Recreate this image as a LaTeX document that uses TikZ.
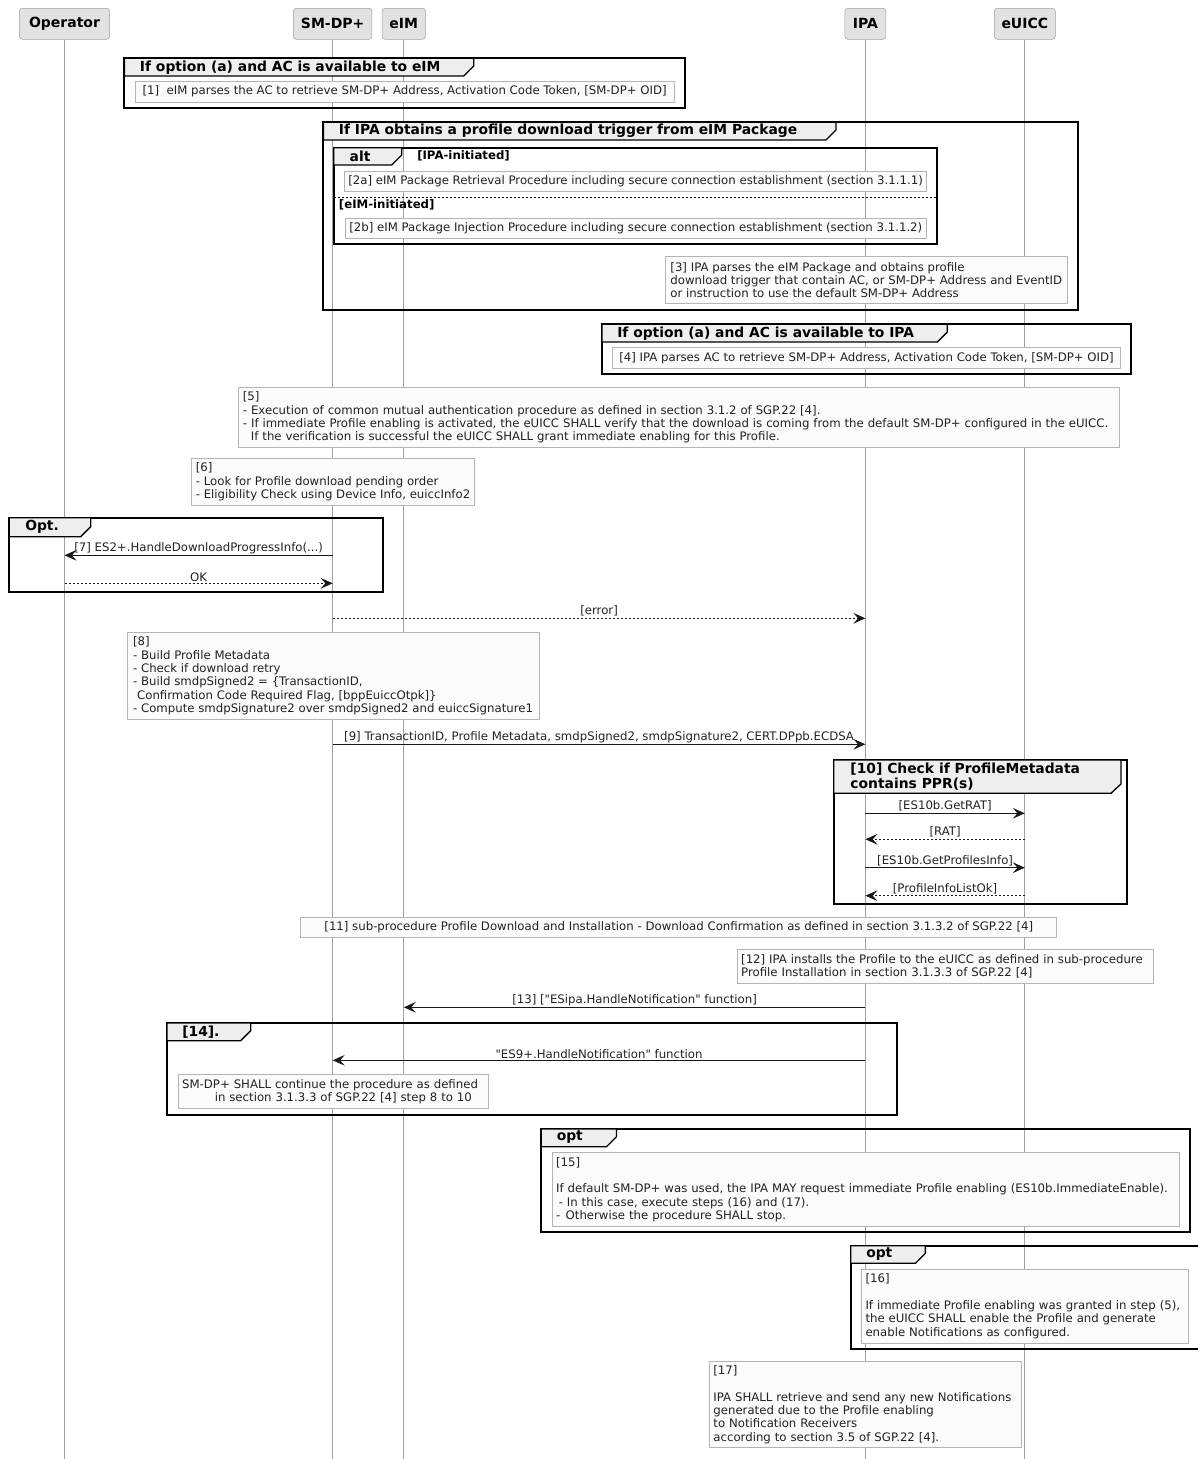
\documentclass[tikz,border=0pt]{standalone}
\usepackage{fontspec}
\setmainfont{DejaVu Sans}
\newfontfamily\umlfont{DejaVu Sans}
\usetikzlibrary{arrows.meta}
\definecolor{partfill}{HTML}{E2E2E2}
\definecolor{partline}{HTML}{A0A0A0}
\definecolor{lifegray}{HTML}{A0A0A0}
\definecolor{notefill}{HTML}{FBFBFB}
\definecolor{noteline}{HTML}{B4B4B4}
\definecolor{tabfill}{HTML}{EEEEEE}
\definecolor{msgline}{HTML}{181818}
\definecolor{textdark}{HTML}{222222}
\tikzset{
  part/.style={rectangle, rounded corners=2.25pt, draw=partline, fill=partfill, minimum height=23.25pt, inner sep=0pt, font=\umlfont\bfseries\fontsize{10.5}{12}\selectfont},
  life/.style={draw=lifegray, line width=0.75pt},
  grp/.style={draw=black, line width=1.5pt},
  tab/.style={draw=black, line width=1pt, fill=tabfill},
  grptitle/.style={anchor=west, inner sep=0pt, align=left, font=\umlfont\bfseries\fontsize{10.4}{11.25}\selectfont},
  guard/.style={anchor=west, inner sep=0pt, font=\umlfont\bfseries\fontsize{8.8}{10}\selectfont},
  altsep/.style={draw=black, line width=0.75pt, dash pattern=on 1.5pt off 1.5pt},
  note/.style={rectangle, anchor=north west, draw=noteline, fill=notefill, line width=0.75pt, inner xsep=3pt, inner ysep=0pt, align=left, text=textdark, font=\umlfont\fontsize{8.8}{10}\selectfont},
  msg/.style={draw=msgline, line width=0.75pt, -{Stealth[length=9pt, width=8pt, inset=3.5pt]}},
  reply/.style={msg, dash pattern=on 1.5pt off 1.5pt},
  lbl/.style={midway, above, inner sep=1pt, text=textdark, font=\umlfont\fontsize{8.8}{10}\selectfont}
}
\begin{document}
\begin{tikzpicture}[x=0.75pt, y=-0.75pt]
  \useasboundingbox (0,0) rectangle (1197,1459);
  \coordinate (bottom) at (0,1459);

  % participants and lifelines
  \node[part, minimum width=67.7pt] (op) at (64.5,23.8) {Operator};
  \node[part, minimum width=58.9pt] (smdp) at (332.7,23.8) {SM-DP+};
  \node[part, minimum width=32.5pt] (eim) at (403.8,23.8) {eIM};
  \node[part, minimum width=30.8pt] (ipa) at (865.4,23.8) {IPA};
  \node[part, minimum width=45.7pt] (euicc) at (1024.8,23.8) {eUICC};
  \foreach \p in {op, smdp, eim, ipa, euicc}
    \draw[life] (\p.south) -- (\p |- bottom);

  % [1]
  \draw[grp] (124.4,58.3) rectangle (684.5,108.3);
  \draw[tab] (124.4,58.3) -- (473.8,58.3) -- (473.8,66) -- (463.8,76) -- (124.4,76) -- cycle;
  \node[grptitle] (g1) at (139.7,67.2) {If option (a) and AC is available to eIM};
  \node[note, minimum width=404.1pt, minimum height=15.75pt] (n1) at (134.7,80.7) {[1]\ \ eIM parses the AC to retrieve SM-DP+ Address, Activation Code Token, [SM-DP+ OID]};

  % [2] - [3]
  \draw[grp] (323.4,122.3) rectangle (1077.5,310);
  \draw[tab] (323.4,122.3) -- (836,122.3) -- (836,130) -- (826,140) -- (323.4,140) -- cycle;
  \node[grptitle] (g2) at (338.7,131.2) {If IPA obtains a profile download trigger from eIM Package};
  \draw[grp] (333.7,147.7) rectangle (936.6,244);
  \draw[tab] (333.7,147.7) -- (401.8,147.7) -- (401.8,155) -- (391.8,165) -- (333.7,165) -- cycle;
  \node[grptitle] (galt) at (349.4,156.3) {alt};
  \node[guard] (galt1) at (417,156) {[IPA-initiated]};
  \node[note, minimum width=437pt, minimum height=15pt] (n2a) at (343.7,170.7) {[2a] eIM Package Retrieval Procedure including secure connection establishment (section 3.1.1.1)};
  \draw[altsep] (333.7,197.7) -- (936.6,197.7);
  \node[guard] (galt2) at (338.7,205) {[eIM-initiated]};
  \node[note, minimum width=434.7pt, minimum height=15.45pt] (n2b) at (344.8,217.7) {[2b] eIM Package Injection Procedure including secure connection establishment (section 3.1.1.2)};
  \node[note, minimum width=301.65pt, minimum height=35.5pt] (n3) at (664.7,256) {[3] IPA parses the eIM Package and obtains profile\\download trigger that contain AC, or SM-DP+ Address and EventID\\or instruction to use the default SM-DP+ Address};

  % [4]
  \draw[grp] (601.9,324.3) rectangle (1130.5,374.3);
  \draw[tab] (601.9,324.3) -- (947.3,324.3) -- (947.3,332) -- (937.3,342) -- (601.9,342) -- cycle;
  \node[grptitle] (g3) at (617,333.2) {If option (a) and AC is available to IPA};
  \node[note, minimum width=380.7pt, minimum height=15.3pt] (n4) at (612.2,347.3) {[4] IPA parses AC to retrieve SM-DP+ Address, Activation Code Token, [SM-DP+ OID]};

  % [5] - [6]
  \node[note, text width=654.2pt, minimum height=45.5pt] (n5) at (238.4,386.7) {[5]\\- Execution of common mutual authentication procedure as defined in section 3.1.2 of SGP.22 [4].\\- If immediate Profile enabling is activated, the eUICC SHALL verify that the download is coming from the default SM-DP+ configured in the eUICC.\\\hspace*{6pt}If the verification is successful the eUICC SHALL grant immediate enabling for this Profile.};
  \node[note, minimum width=212.9pt, minimum height=35.7pt] (n6) at (190.6,457.7) {[6]\\- Look for Profile download pending order\\- Eligibility Check using Device Info, euiccInfo2};

  % [7]
  \draw[grp] (9.2,517.7) rectangle (382.7,592);
  \draw[tab] (9.2,517.7) -- (90.7,517.7) -- (90.7,526.7) -- (80.7,536.7) -- (9.2,536.7) -- cycle;
  \node[grptitle] (gopt) at (25,527.2) {Opt.};
  \draw[msg] (smdp |- 0,555.3) -- node[lbl] {[7] ES2+.HandleDownloadProgressInfo(...)} (op |- 0,555.3);
  \draw[reply] (op |- 0,583.3) -- node[lbl] {OK} (smdp |- 0,583.3);
  \draw[reply] (smdp |- 0,618.3) -- node[lbl] {[error]} (ipa |- 0,618.3);

  % [8] - [9]
  \node[note, minimum width=308.85pt, minimum height=65.25pt] (n8) at (126.7,632) {[8]\\- Build Profile Metadata\\- Check if download retry\\- Build smdpSigned2 = \{TransactionID,\\\hspace*{3pt}Confirmation Code Required Flag, [bppEuiccOtpk]\}\\- Compute smdpSignature2 over smdpSigned2 and euiccSignature1};
  \draw[msg] (smdp |- 0,744.3) -- node[lbl] {[9] TransactionID, Profile Metadata, smdpSigned2, smdpSignature2, CERT.DPpb.ECDSA} (ipa |- 0,744.3);

  % [10]
  \draw[grp] (833.8,760) rectangle (1126.7,904.3);
  \draw[tab] (833.8,760) -- (1121,760) -- (1121,784) -- (1111,793.3) -- (833.8,793.3) -- cycle;
  \node[grptitle] (g10) at (850.2,776.5) {[10] Check if ProfileMetadata\\contains PPR(s)};
  \draw[msg] (ipa |- 0,813.3) -- node[lbl] {[ES10b.GetRAT]} (euicc |- 0,813.3);
  \draw[reply] (euicc |- 0,839.3) -- node[lbl] {[RAT]} (ipa |- 0,839.3);
  \draw[msg] (ipa |- 0,867.7) -- node[lbl] {[ES10b.GetProfilesInfo]} (euicc |- 0,867.7);
  \draw[reply] (euicc |- 0,895.7) -- node[lbl] {[ProfileInfoListOk]} (ipa |- 0,895.7);

  % [11] - [13]
  \node[note, align=center, minimum width=566.85pt, minimum height=15.45pt] (n11) at (300.4,916.7) {[11] sub-procedure Profile Download and Installation - Download Confirmation as defined in section 3.1.3.2 of SGP.22 [4]};
  \node[note, text width=306.15pt, minimum height=25.7pt, font=\umlfont\fontsize{8.8}{9.25}\selectfont] (n12) at (736.7,948.7) {[12] IPA installs the Profile to the eUICC as defined in sub-procedure\\Profile Installation in section 3.1.3.3 of SGP.22 [4]};
  \draw[msg] (ipa |- 0,1007.3) -- node[lbl] {[13] ["ESipa.HandleNotification" function]} (eim |- 0,1007.3);

  % [14]
  \draw[grp] (166.9,1023) rectangle (896.6,1115);
  \draw[tab] (166.9,1023) -- (250.7,1023) -- (250.7,1030.7) -- (240.7,1040.7) -- (166.9,1040.7) -- cycle;
  \node[grptitle] (g14) at (182,1032) {[14].};
  \draw[msg] (ipa |- 0,1060.3) -- node[lbl] {"ES9+.HandleNotification" function} (smdp |- 0,1060.3);
  \node[note, text width=226.7pt, minimum height=25.7pt] (n14) at (177.6,1074) {SM-DP+ SHALL continue the procedure as defined\\\hspace*{24.5pt}in section 3.1.3.3 of SGP.22 [4] step 8 to 10};

  % [15] - [17]
  \draw[grp] (541.3,1129) rectangle (1189.9,1231.7);
  \draw[tab] (541.3,1129) -- (616.5,1129) -- (616.5,1136.7) -- (606.5,1146.7) -- (541.3,1146.7) -- cycle;
  \node[grptitle] (g15) at (556.5,1137.5) {opt};
  \node[note, text width=464.4pt, minimum height=55.95pt] (n15) at (551.6,1151.7) {[15]\\[10pt]If default SM-DP+ was used, the IPA MAY request immediate Profile enabling (ES10b.ImmediateEnable).\\\hspace*{2pt}- In this case, execute steps (16) and (17).\\-\hspace*{4pt}Otherwise the procedure SHALL stop.};
  \draw[grp] (850.7,1245.7) rectangle (1202,1348.7);
  \draw[tab] (850.7,1245.7) -- (925.4,1245.7) -- (925.4,1253.3) -- (915.4,1263.3) -- (850.7,1263.3) -- cycle;
  \node[grptitle] (g16) at (866,1254.3) {opt};
  \node[note, text width=239pt, minimum height=55.3pt] (n16) at (861,1269) {[16]\\[10pt]If immediate Profile enabling was granted in step (5),\\the eUICC SHALL enable the Profile and generate\\enable Notifications as configured.};
  \node[note, text width=228.4pt, minimum height=64.95pt] (n17) at (708.9,1360.7) {[17]\\[10pt]IPA SHALL retrieve and send any new Notifications\\generated due to the Profile enabling\\to Notification Receivers\\according to section 3.5 of SGP.22 [4].};
\end{tikzpicture}
\end{document}
